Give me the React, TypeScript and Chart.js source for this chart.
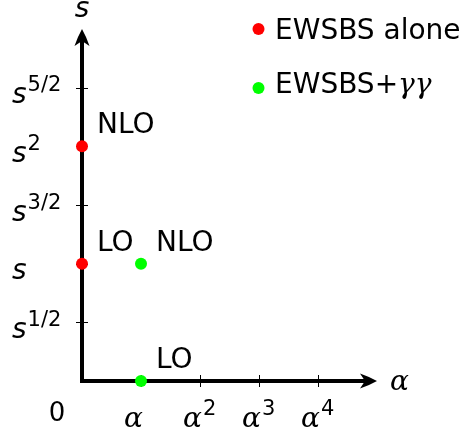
import { useEffect, useRef } from "react";
import { Chart, registerables } from "chart.js";

Chart.register(...registerables);

// Powers of alpha along the horizontal axis
const alphaTicks = [1, 2, 3, 4];
const alphaExponents = ["", "2", "3", "4"];
// Powers of s along the vertical axis
const sTicks = [0.5, 1, 1.5, 2, 2.5];
const sExponents = ["1/2", "", "3/2", "2", "5/2"];

// EWSBS alone
const ewsbsAlpha = [0, 0];
const ewsbsS = [1, 2];
const ewsbsOrders = ["LO", "NLO"];

// EWSBS + photon-photon
const gammaAlpha = [1, 1];
const gammaS = [0, 1];
const gammaOrders = ["LO", "NLO"];

const seriesNames = ["EWSBS alone", "EWSBS+γγ"];
const seriesColors = ["#ff0000", "#00ff00"];
const seriesOrders = [ewsbsOrders, gammaOrders];

const X_MAX = 5;
const Y_MAX = 3;

const SANS = '"DejaVu Sans", sans-serif';
const SERIF = '"DejaVu Serif", serif';

type Ctx = CanvasRenderingContext2D;

// Draws text where Greek letters are set in italic serif, the rest in sans
function drawMixed(ctx: Ctx, text: string, x: number, y: number, size: number) {
  let cx = x;
  const runs: { t: string; greek: boolean }[] = [];
  for (const ch of text) {
    const greek = /[\u03b1-\u03c9]/.test(ch);
    const last = runs[runs.length - 1];
    if (last && last.greek === greek) last.t += ch;
    else runs.push({ t: ch, greek });
  }
  ctx.textAlign = "left";
  ctx.textBaseline = "alphabetic";
  for (const r of runs) {
    ctx.font = r.greek ? `italic ${size}px ${SERIF}` : `${size}px ${SANS}`;
    ctx.fillText(r.t, cx, y);
    cx += ctx.measureText(r.t).width;
  }
}

// Filled arrow head with a notched back, pointing along (dx, dy)
function arrowHead(ctx: Ctx, tx: number, ty: number, dx: number, dy: number) {
  const nx = -dy;
  const ny = dx;
  const len = 17;
  const half = 7.5;
  const notch = 12;
  const p = (a: number, b: number) => [tx - a * dx + b * nx, ty - a * dy + b * ny];
  const [c1x, c1y] = p(len, half);
  const [c2x, c2y] = p(len, -half);
  const [nxp, nyp] = p(notch, 0);
  const [k1x, k1y] = p(7, 4);
  const [k2x, k2y] = p(7, -4);
  ctx.beginPath();
  ctx.moveTo(tx, ty);
  ctx.quadraticCurveTo(k1x, k1y, c1x, c1y);
  ctx.lineTo(nxp, nyp);
  ctx.lineTo(c2x, c2y);
  ctx.quadraticCurveTo(k2x, k2y, tx, ty);
  ctx.closePath();
  ctx.fill();
}

const axesPlugin = {
  id: "orderAxes",
  beforeDatasetsDraw(chart: Chart) {
    const ctx = chart.ctx;
    const x = chart.scales.x;
    const y = chart.scales.y;
    const x0 = x.getPixelForValue(0);
    const y0 = y.getPixelForValue(0);
    const xEnd = x.getPixelForValue(X_MAX);
    const yEnd = y.getPixelForValue(Y_MAX);
    ctx.save();
    ctx.strokeStyle = "#000";
    ctx.fillStyle = "#000";
    ctx.lineWidth = 1;
    ctx.beginPath();
    alphaTicks.forEach((v) => {
      const px = Math.round(x.getPixelForValue(v)) + 0.5;
      ctx.moveTo(px, y0 - 6);
      ctx.lineTo(px, y0 + 6);
    });
    sTicks.forEach((v) => {
      const py = Math.round(y.getPixelForValue(v)) + 0.5;
      ctx.moveTo(x0 - 6, py);
      ctx.lineTo(x0 + 6, py);
    });
    ctx.stroke();

    ctx.lineWidth = 4;
    ctx.lineCap = "butt";
    ctx.beginPath();
    ctx.moveTo(x0, y0 + 2);
    ctx.lineTo(x0, yEnd + 12);
    ctx.moveTo(x0 - 2, y0);
    ctx.lineTo(xEnd - 12, y0);
    ctx.stroke();

    arrowHead(ctx, x0, yEnd, 0, -1);
    arrowHead(ctx, xEnd, y0, 1, 0);
    ctx.restore();
  },
  afterDatasetsDraw(chart: Chart) {
    const ctx = chart.ctx;
    const x = chart.scales.x;
    const y = chart.scales.y;
    const x0 = x.getPixelForValue(0);
    const y0 = y.getPixelForValue(0);
    const xEnd = x.getPixelForValue(X_MAX);
    const yEnd = y.getPixelForValue(Y_MAX);
    ctx.save();
    ctx.fillStyle = "#000";
    ctx.textBaseline = "alphabetic";

    // origin
    ctx.font = `26px ${SANS}`;
    ctx.textAlign = "center";
    ctx.fillText("0", x0 - 25, y0 + 40);

    // alpha tick labels
    alphaTicks.forEach((v, i) => {
      const px = x.getPixelForValue(v) - 17;
      const base = y0 + 46;
      ctx.textAlign = "left";
      ctx.font = `italic 28px ${SERIF}`;
      ctx.fillText("α", px, base);
      const w = ctx.measureText("α").width;
      if (alphaExponents[i]) {
        ctx.font = `21px ${SANS}`;
        ctx.fillText(alphaExponents[i], px + w + 1, base - 12);
      }
    });

    // s tick labels
    sTicks.forEach((v, i) => {
      const base = y.getPixelForValue(v) + 15.5;
      const px = x0 - 70;
      ctx.textAlign = "left";
      ctx.font = `italic 28px ${SANS}`;
      ctx.fillText("s", px, base);
      const w = ctx.measureText("s").width;
      if (sExponents[i]) {
        ctx.font = `21px ${SANS}`;
        ctx.fillText(sExponents[i], px + w + 1, base - 12);
      }
    });

    // axis titles
    ctx.font = `italic 28px ${SANS}`;
    ctx.textAlign = "center";
    ctx.fillText("s", x0, yEnd - 12);
    ctx.font = `italic 28px ${SERIF}`;
    ctx.textAlign = "left";
    ctx.fillText("α", xEnd + 13, y0 + 9);

    // order labels beside each point
    chart.data.datasets.forEach((ds, di) => {
      const meta = chart.getDatasetMeta(di);
      meta.data.forEach((pt, pi) => {
        ctx.font = `28px ${SANS}`;
        ctx.textAlign = "left";
        ctx.fillText(seriesOrders[di][pi], pt.x + 15, pt.y - 13);
      });
    });

    // legend
    const legendY = [29, 88];
    const textY = [39, 93];
    seriesNames.forEach((name, i) => {
      ctx.fillStyle = seriesColors[i];
      ctx.beginPath();
      ctx.arc(258.5, legendY[i], 6, 0, Math.PI * 2);
      ctx.fill();
      ctx.fillStyle = "#000";
      drawMixed(ctx, name, 275, textY[i], 28);
    });
    ctx.restore();
  },
};

export default function App() {
  const canvasRef = useRef<HTMLCanvasElement | null>(null);

  useEffect(() => {
    const canvas = canvasRef.current;
    if (!canvas) return;
    const toPoints = (xs: number[], ys: number[]) =>
      xs.map((v, i) => ({ x: v, y: ys[i] }));
    const chart = new Chart(canvas, {
      type: "scatter",
      data: {
        datasets: [
          {
            label: seriesNames[0],
            data: toPoints(ewsbsAlpha, ewsbsS),
            backgroundColor: seriesColors[0],
            borderColor: seriesColors[0],
            pointRadius: 6,
            borderWidth: 0,
            clip: false,
          },
          {
            label: seriesNames[1],
            data: toPoints(gammaAlpha, gammaS),
            backgroundColor: seriesColors[1],
            borderColor: seriesColors[1],
            pointRadius: 6,
            borderWidth: 0,
            clip: false,
          },
        ],
      },
      options: {
        animation: false,
        responsive: false,
        devicePixelRatio: 1,
        layout: { padding: { left: 82, right: 85, top: 29, bottom: 58 } },
        scales: {
          x: { type: "linear", min: 0, max: X_MAX, display: false },
          y: { type: "linear", min: 0, max: Y_MAX, display: false },
        },
        plugins: {
          legend: { display: false },
          tooltip: { enabled: false },
        },
      },
      plugins: [axesPlugin],
    });
    return () => chart.destroy();
  }, []);

  return (
    <div style={{ position: "fixed", left: 0, top: 0, width: 462, height: 439, background: "#fff" }}>
      <canvas ref={canvasRef} width={462} height={439} />
    </div>
  );
}
